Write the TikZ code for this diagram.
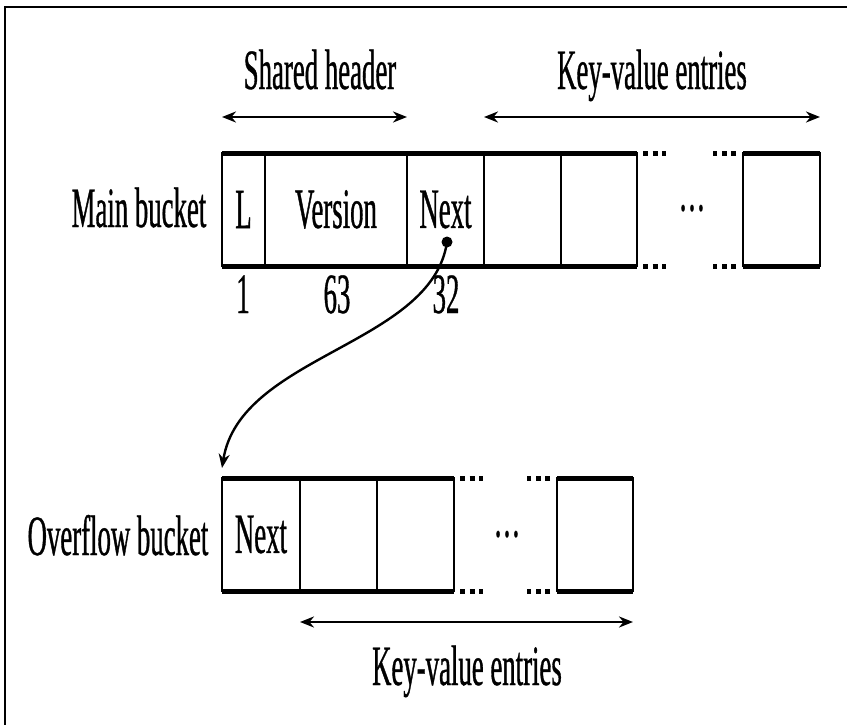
\documentclass[tikz,border=0pt]{standalone}
\usepackage{fontspec}
\setmainfont{Liberation Serif}[FakeStretch=0.47, FakeBold=0.6]
\usetikzlibrary{positioning,arrows.meta}

\begin{document}
\begin{tikzpicture}[x=0.5pt, y=-0.5pt, >={Stealth[length=7pt,width=5.5pt]},
  txt/.style={font=\fontsize{28.5}{30}\selectfont},
  cell/.style={txt, draw, line width=1.2pt, inner sep=0pt, outer sep=0pt, minimum height=56.5pt},
  lbl/.style={txt, anchor=base, inner sep=0pt},
  rim/.style={line width=2.5pt},
  dots/.style={line width=2.5pt, dash pattern=on 2.5pt off 2.25pt},
  span/.style={<->, line width=1.2pt}]
  \useasboundingbox (0,0) rectangle (847,724);
  \draw[line width=1.2pt] (5,730) -- (5,7) -- (852,7);

  % main bucket
  \node[cell, minimum width=21.5pt] (L) at (243.5,209.5) {L};
  \node[cell, minimum width=71pt, right=0pt of L] (ver) {Version};
  \node[cell, minimum width=38.5pt, right=0pt of ver] (nxt) {Next};
  \node[cell, minimum width=38.5pt, right=0pt of nxt] (e1) {};
  \node[cell, minimum width=38pt, right=0pt of e1] (e2) {};
  \node[cell, minimum width=38.5pt] (en) at (781.5,209.5) {};
  \draw[rim] (L.north west) -- (e2.north east);
  \draw[rim] (L.south west) -- (e2.south east);
  \draw[rim] (en.north west) -- (en.north east);
  \draw[rim] (en.south west) -- (en.south east);
  \draw[dots] ([xshift=3pt]e2.north east) -- ++(23,0);
  \draw[dots] ([xshift=3pt]e2.south east) -- ++(23,0);
  \draw[dots] ([xshift=-3.5pt]en.north west) -- ++(-23,0);
  \draw[dots] ([xshift=-3.5pt]en.south west) -- ++(-23,0);
  \node[lbl] (gap1) at (692,227) {···};

  \node[lbl] (main) at (139,227) {Main bucket};
  \node[lbl] (n1) at (243,313) {1};
  \node[lbl] (n63) at (337,313) {63};
  \node[lbl] (n32) at (446,313) {32};

  \coordinate (topy) at (0,117);
  \draw[span] (L.north west |- topy) -- (nxt.north west |- topy);
  \draw[span] (e1.north west |- topy) -- (en.north east |- topy);
  \node[lbl] (shared) at (320,89) {Shared header};
  \node[lbl] (kv1) at (652,89) {Key-value entries};

  % overflow bucket
  \node[cell, minimum width=39pt] (onx) at (261,534.5) {Next};
  \node[cell, minimum width=38.5pt, right=0pt of onx] (o1) {};
  \node[cell, minimum width=38.5pt, right=0pt of o1] (o2) {};
  \node[cell, minimum width=38pt] (on) at (595,534.5) {};
  \draw[rim] (onx.north west) -- (o2.north east);
  \draw[rim] (onx.south west) -- (o2.south east);
  \draw[rim] (on.north west) -- (on.north east);
  \draw[rim] (on.south west) -- (on.south east);
  \draw[dots] ([xshift=3pt]o2.north east) -- ++(23,0);
  \draw[dots] ([xshift=3pt]o2.south east) -- ++(23,0);
  \draw[dots] ([xshift=-3.5pt]on.north west) -- ++(-23,0);
  \draw[dots] ([xshift=-3.5pt]on.south west) -- ++(-23,0);
  \node[lbl] (gap2) at (507,553) {···};

  \node[lbl] (over) at (118,555) {Overflow bucket};
  \coordinate (boty) at (0,622);
  \draw[span] (o1.south west |- boty) -- (on.south east |- boty);
  \node[lbl] (kv2) at (467,685) {Key-value entries};

  % next pointer
  \node[circle, fill, inner sep=0pt, minimum size=5.5pt] (ptr) at (447,242) {};
  \draw[->, line width=1.2pt] (ptr.center) .. controls (432,345) and (240,355) .. ([yshift=5pt]onx.north west);
\end{tikzpicture}
\end{document}
